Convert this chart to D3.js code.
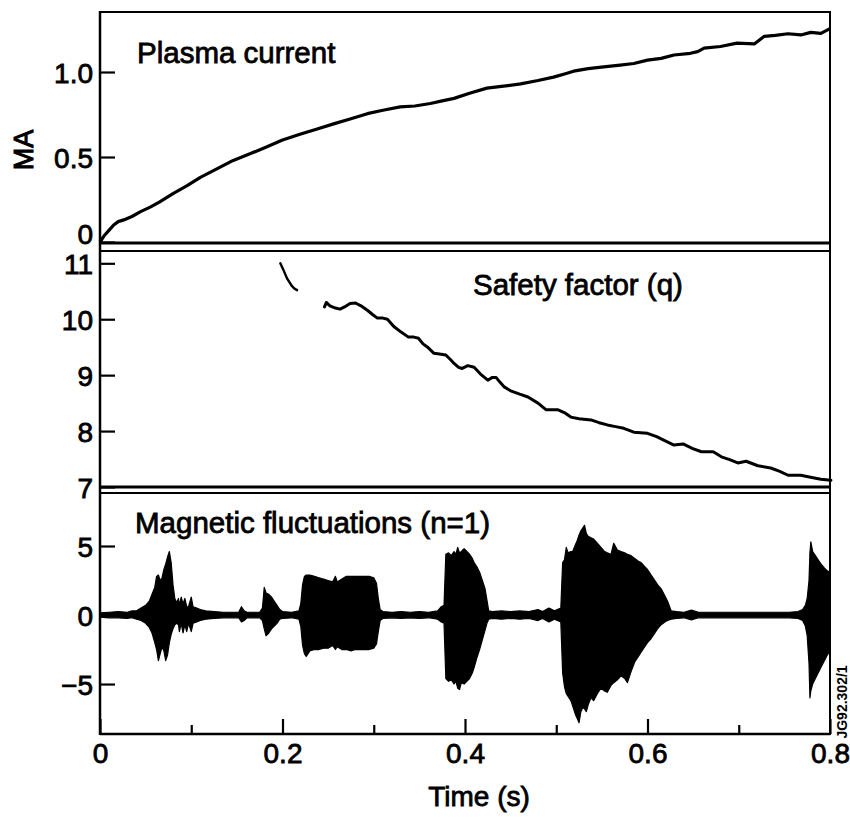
<!DOCTYPE html>
<html>
<head>
<meta charset="utf-8">
<script src="https://cdn.jsdelivr.net/npm/d3@7"></script>
<style>
  html, body { margin: 0; padding: 0; background: #fff; }
  svg { display: block; }
  text { font-family: "Liberation Sans", Arial, Helvetica, sans-serif; fill: #000; }
</style>
</head>
<body>
<div id="chart"></div>
<script>
// Plasma current (MA) vs time (s)
const currentTime = [0, 0.005, 0.01, 0.015, 0.02, 0.026, 0.035, 0.045, 0.055, 0.065, 0.08, 0.095, 0.11, 0.128,
    0.146, 0.165, 0.183, 0.2, 0.22, 0.238, 0.256, 0.275, 0.293, 0.31, 0.329, 0.345, 0.362, 0.375, 0.388, 0.405,
    0.424, 0.44, 0.461, 0.48, 0.497, 0.51, 0.519, 0.535, 0.552, 0.57, 0.585, 0.6, 0.615, 0.629, 0.647, 0.655,
    0.662, 0.68, 0.698, 0.717, 0.722, 0.728, 0.74, 0.754, 0.768, 0.779, 0.79, 0.8];
const currentMA = [0, 0.04, 0.07, 0.1, 0.12, 0.13, 0.15, 0.18, 0.205, 0.235, 0.285, 0.33, 0.38, 0.43,
    0.48, 0.52, 0.56, 0.6, 0.635, 0.665, 0.695, 0.725, 0.755, 0.775, 0.795, 0.8, 0.815, 0.83, 0.845, 0.875,
    0.905, 0.915, 0.93, 0.95, 0.97, 0.99, 1.005, 1.02, 1.03, 1.04, 1.05, 1.07, 1.08, 1.1, 1.11, 1.12,
    1.14, 1.15, 1.17, 1.165, 1.185, 1.21, 1.215, 1.225, 1.218, 1.233, 1.227, 1.255];

// Safety factor q, two separate traces
const qTime1 = [0.1976, 0.2005, 0.205, 0.21, 0.213, 0.216];
const qValue1 = [11.0, 10.9, 10.73, 10.6, 10.55, 10.52];
const qTime2 = [0.246, 0.248, 0.252, 0.258, 0.263, 0.268, 0.274, 0.28, 0.286, 0.293, 0.299, 0.304, 0.31, 0.315,
    0.322, 0.33, 0.338, 0.344, 0.349, 0.354, 0.359, 0.366, 0.372, 0.379, 0.384, 0.388, 0.393, 0.397, 0.403, 0.41,
    0.417, 0.425, 0.43, 0.434, 0.438, 0.443, 0.45, 0.46, 0.469, 0.48, 0.489, 0.495, 0.502, 0.51, 0.516, 0.525,
    0.538, 0.547, 0.556, 0.565, 0.574, 0.585, 0.6, 0.61, 0.62, 0.629, 0.639, 0.649, 0.659, 0.672, 0.681, 0.69,
    0.699, 0.708, 0.721, 0.735, 0.745, 0.754, 0.768, 0.78, 0.79, 0.801];
const qValue2 = [10.22, 10.3, 10.24, 10.2, 10.18, 10.22, 10.28, 10.29, 10.24, 10.16, 10.08, 10.02, 10.02, 10.0,
    9.87, 9.77, 9.68, 9.68, 9.66, 9.56, 9.5, 9.39, 9.38, 9.36, 9.28, 9.21, 9.14, 9.12, 9.17, 9.14,
    9.02, 8.91, 8.96, 8.96, 8.88, 8.79, 8.72, 8.66, 8.61, 8.5, 8.38, 8.38, 8.38, 8.32, 8.25, 8.22,
    8.2, 8.15, 8.11, 8.08, 8.05, 7.98, 7.96, 7.9, 7.82, 7.75, 7.77, 7.69, 7.63, 7.63, 7.54, 7.49,
    7.43, 7.46, 7.38, 7.34, 7.28, 7.21, 7.21, 7.17, 7.14, 7.12];

// Magnetic fluctuations (n=1): upper / lower envelope of the signal
const magTime = [0, 0.01, 0.02, 0.03, 0.035, 0.04, 0.045, 0.05, 0.054, 0.057, 0.06, 0.062, 0.064, 0.066, 0.068,
    0.07, 0.072, 0.074, 0.076, 0.078, 0.08, 0.082, 0.084, 0.086, 0.087, 0.089, 0.091, 0.093, 0.095, 0.097,
    0.1, 0.102, 0.106, 0.11, 0.116, 0.125, 0.135, 0.145, 0.152, 0.155, 0.158, 0.161, 0.168, 0.175, 0.178,
    0.18, 0.182, 0.185, 0.188, 0.191, 0.194, 0.197, 0.2, 0.21, 0.218, 0.22, 0.222, 0.224, 0.226, 0.23,
    0.235, 0.24, 0.245, 0.25, 0.255, 0.258, 0.26, 0.265, 0.27, 0.275, 0.28, 0.285, 0.29, 0.295, 0.3,
    0.303, 0.305, 0.307, 0.31, 0.32, 0.33, 0.34, 0.35, 0.36, 0.37, 0.374, 0.377, 0.379, 0.382, 0.385,
    0.388, 0.39, 0.392, 0.394, 0.396, 0.399, 0.402, 0.405, 0.408, 0.41, 0.413, 0.416, 0.419, 0.422, 0.424,
    0.426, 0.43, 0.44, 0.45, 0.46, 0.47, 0.48, 0.485, 0.492, 0.498, 0.505, 0.507, 0.509, 0.511, 0.513,
    0.516, 0.518, 0.521, 0.523, 0.525, 0.527, 0.529, 0.531, 0.533, 0.535, 0.538, 0.541, 0.545, 0.549, 0.553,
    0.556, 0.56, 0.563, 0.567, 0.571, 0.575, 0.578, 0.582, 0.586, 0.59, 0.593, 0.597, 0.6, 0.604, 0.607,
    0.611, 0.615, 0.619, 0.622, 0.626, 0.632, 0.64, 0.648, 0.656, 0.665, 0.68, 0.695, 0.71, 0.725, 0.74,
    0.755, 0.765, 0.77, 0.773, 0.775, 0.777, 0.778, 0.779, 0.781, 0.784, 0.787, 0.79, 0.794, 0.797, 0.8];
const magHigh = [0.15, 0.2, 0.25, 0.2, 0.3, 0.3, 0.5, 0.7, 1.0, 1.5, 2.0, 2.8, 2.9, 2.5, 2.7,
    3.3, 3.7, 4.2, 4.6, 3.8, 2.2, 1.2, 0.9, 1.2, 0.7, 1.3, 0.8, 1.2, 0.6, 0.6,
    1.3, 0.6, 0.5, 0.4, 0.3, 0.25, 0.2, 0.2, 0.2, 0.6, 0.3, 0.2, 0.2, 0.2, 0.5,
    2.0, 1.6, 1.5, 1.3, 1.0, 0.7, 0.4, 0.25, 0.2, 0.3, 0.8, 2.2, 2.8, 2.9, 2.9,
    2.8, 2.7, 2.6, 2.5, 2.4, 2.8, 2.4, 2.6, 2.8, 2.8, 2.8, 2.8, 2.8, 2.8, 2.7,
    2.3, 1.2, 0.4, 0.25, 0.2, 0.25, 0.2, 0.25, 0.2, 0.3, 0.6, 0.7, 4.4, 4.5, 4.3,
    4.6, 4.4, 4.9, 4.5, 4.6, 4.8, 4.6, 4.4, 4.1, 3.8, 3.5, 3.1, 2.5, 1.9, 1.1,
    0.3, 0.25, 0.3, 0.25, 0.3, 0.25, 0.4, 0.25, 0.5, 0.3, 0.5, 3.8, 4.0, 4.9, 4.5,
    4.6, 4.6, 5.1, 5.4, 5.8, 6.1, 6.3, 6.5, 5.9, 5.7, 5.6, 5.5, 5.2, 4.9, 4.6,
    4.5, 4.4, 5.2, 4.7, 4.6, 4.5, 4.4, 4.3, 4.1, 3.9, 3.8, 3.5, 3.3, 2.9, 2.6,
    2.2, 1.9, 1.4, 1.0, 0.3, 0.25, 0.2, 0.35, 0.2, 0.2, 0.2, 0.2, 0.2, 0.2, 0.2,
    0.2, 0.25, 0.4, 0.7, 1.2, 2.5, 4.5, 5.3, 4.6, 4.3, 4.0, 3.7, 3.4, 3.2, 3.1];
const magLow = [-0.15, -0.2, -0.2, -0.25, -0.2, -0.3, -0.4, -0.6, -0.9, -1.3, -2.0, -2.5, -3.3, -2.8, -2.3,
    -2.6, -3.3, -2.9, -2.0, -1.4, -1.0, -0.7, -0.6, -0.7, -1.2, -0.6, -1.3, -0.7, -1.2, -0.6,
    -1.2, -0.6, -0.5, -0.4, -0.3, -0.25, -0.2, -0.2, -0.2, -0.5, -0.4, -0.2, -0.2, -0.2, -0.4,
    -1.0, -1.5, -1.3, -1.0, -0.8, -0.6, -0.3, -0.25, -0.2, -0.3, -0.8, -2.2, -2.8, -3.0, -2.6,
    -2.5, -2.5, -2.4, -2.4, -2.2, -2.5, -2.3, -2.5, -2.5, -2.6, -2.5, -2.5, -2.5, -2.5, -2.4,
    -2.1, -1.2, -0.4, -0.25, -0.2, -0.25, -0.2, -0.25, -0.2, -0.3, -0.5, -0.6, -4.6, -4.8, -4.7,
    -5.0, -4.8, -5.3, -5.4, -4.9, -5.0, -4.8, -4.6, -4.2, -3.8, -3.1, -2.5, -1.8, -1.1, -0.6,
    -0.3, -0.25, -0.3, -0.25, -0.3, -0.25, -0.4, -0.25, -0.5, -0.3, -0.5, -4.2, -5.2, -5.7, -5.9,
    -6.2, -6.6, -7.2, -7.5, -7.8, -7.0, -6.7, -6.8, -7.0, -6.5, -6.0, -6.2, -5.7, -5.3, -5.5,
    -5.6, -5.1, -4.9, -4.7, -4.4, -4.6, -4.9, -4.1, -3.4, -3.0, -2.7, -2.3, -2.0, -1.7, -1.4,
    -1.0, -0.7, -0.5, -0.4, -0.3, -0.25, -0.2, -0.35, -0.2, -0.2, -0.2, -0.2, -0.2, -0.2, -0.2,
    -0.2, -0.25, -0.4, -0.8, -1.5, -3.5, -6.0, -5.5, -5.0, -4.6, -4.2, -3.8, -3.3, -2.9, -2.6];

// Tick values
const timeMajorTicks = [0, 0.2, 0.4, 0.6, 0.8];
const timeMinorTicks = [0.1, 0.3, 0.5, 0.7];
const currentTicks = [0, 0.5, 1.0];
const qTicks = [7, 8, 9, 10, 11];
const magTicks = [-5, 0, 5];

const width = 850;
const height = 817;
const left = 100, right = 830;

// panel bands (pixel extents)
const panels = {
    current: { top: 12, bottom: 243 },
    q: { top: 251, bottom: 487 },
    mag: { top: 493, bottom: 734 }
};

const svg = d3.select('#chart').append('svg')
    .attr('width', width)
    .attr('height', height)
    .attr('viewBox', [0, 0, width, height]);

svg.append('rect').attr('width', width).attr('height', height).attr('fill', '#fff');

const x = d3.scaleLinear().domain([0, 0.8]).range([left, right]);
const yI = d3.scaleLinear().domain([0, 1.353]).range([242, panels.current.top]);
const yQ = d3.scaleLinear().domain([7, 11.22]).range([487, panels.q.top]);
const yM = d3.scaleLinear().domain([-8.62, 8.84]).range([panels.mag.bottom, panels.mag.top]);

const tickFont = '28px';
const titleFont = '29.5px';
const inkWidth = 0.8;   // thin outline to mimic the heavy printed type

function styleAxis(g) {
    g.select('.domain').remove();
    g.selectAll('.tick line').attr('stroke', '#000').attr('stroke-width', 2.2);
    g.selectAll('.tick text')
        .style('font-size', tickFont)
        .style('font-family', '"Liberation Sans", Arial, sans-serif')
        .attr('fill', '#000')
        .attr('stroke', '#000')
        .attr('stroke-width', inkWidth);
}

// Y axes, ticks pointing inward
const fmtOne = d => d === 0 ? '0' : d3.format('.1f')(d);

svg.append('g')
    .attr('transform', `translate(${left},0)`)
    .call(d3.axisLeft(yI).tickValues(currentTicks).tickSize(-15).tickPadding(7).tickFormat(fmtOne))
    .call(styleAxis)
    .selectAll('.tick text')
    .attr('dy', d => d === 0 ? '0.04em' : '0.36em');

svg.append('g')
    .attr('transform', `translate(${left},0)`)
    .call(d3.axisLeft(yQ).tickValues(qTicks).tickSize(-15).tickPadding(7).tickFormat(d3.format('d')))
    .call(styleAxis)
    .selectAll('.tick text')
    .attr('dy', '0.36em');

svg.append('g')
    .attr('transform', `translate(${left},0)`)
    .call(d3.axisLeft(yM).tickValues(magTicks).tickSize(-15).tickPadding(7).tickFormat(d3.format('d')))
    .call(styleAxis)
    .selectAll('.tick text')
    .attr('dy', '0.36em');

// X axis: major and minor ticks pointing up
svg.append('g')
    .attr('transform', `translate(0,${panels.mag.bottom})`)
    .call(d3.axisBottom(x).tickValues(timeMajorTicks).tickSize(-15).tickPadding(9).tickFormat(fmtOne))
    .call(styleAxis);

svg.append('g')
    .attr('transform', `translate(0,${panels.mag.bottom})`)
    .call(d3.axisBottom(x).tickValues(timeMinorTicks).tickSize(-9).tickFormat(''))
    .call(styleAxis);

// Frames
const frame = svg.append('g').attr('stroke', '#000').attr('fill', 'none');
frame.append('line').attr('x1', left).attr('x2', left).attr('y1', panels.current.top - 1).attr('y2', panels.mag.bottom + 1).attr('stroke-width', 2.5);
frame.append('line').attr('x1', right).attr('x2', right).attr('y1', panels.current.top - 1).attr('y2', panels.mag.bottom + 1).attr('stroke-width', 2);
[[panels.current.top, 2], [panels.current.bottom, 3], [panels.q.top, 2], [panels.q.bottom, 3], [panels.mag.top, 2], [panels.mag.bottom, 2.5]]
    .forEach(([yy, w]) => {
        frame.append('line').attr('x1', left).attr('x2', right).attr('y1', yy).attr('y2', yy).attr('stroke-width', w);
    });

// Plasma current curve
const currentLine = d3.line().x(d => x(d[0])).y(d => yI(d[1])).curve(d3.curveLinear);
svg.append('path')
    .datum(d3.zip(currentTime, currentMA))
    .attr('d', currentLine)
    .attr('fill', 'none')
    .attr('stroke', '#000')
    .attr('stroke-width', 3.2)
    .attr('stroke-linejoin', 'round');

// Safety factor traces
const qLine = d3.line().x(d => x(d[0])).y(d => yQ(d[1]));
svg.append('path')
    .datum(d3.zip(qTime1, qValue1))
    .attr('d', qLine)
    .attr('fill', 'none')
    .attr('stroke', '#000')
    .attr('stroke-width', 2.4)
    .attr('stroke-linecap', 'round');
svg.append('path')
    .datum(d3.zip(qTime2, qValue2))
    .attr('d', qLine)
    .attr('fill', 'none')
    .attr('stroke', '#000')
    .attr('stroke-width', 3)
    .attr('stroke-linejoin', 'round')
    .attr('stroke-linecap', 'round');

// Magnetic fluctuation envelope
const magArea = d3.area()
    .x(d => x(d[0]))
    .y0(d => yM(d[2]))
    .y1(d => yM(d[1]));
svg.append('path')
    .datum(d3.zip(magTime, magHigh, magLow))
    .attr('d', magArea)
    .attr('fill', '#000')
    .attr('stroke', '#000')
    .attr('stroke-width', 1.2)
    .attr('stroke-linejoin', 'round');

// Panel titles
function title(txt, tx, ty, anchor) {
    svg.append('text')
        .attr('x', tx)
        .attr('y', ty)
        .attr('text-anchor', anchor || 'start')
        .style('font-size', titleFont)
        .attr('stroke', '#000')
        .attr('stroke-width', inkWidth)
        .text(txt);
}
title('Plasma current', 137, 63);
title('Safety factor (q)', 473, 295);
title('Magnetic fluctuations (n=1)', 135, 533);

// Axis titles
svg.append('text')
    .attr('transform', 'translate(33,150) rotate(-90)')
    .attr('text-anchor', 'middle')
    .style('font-size', '27px')
    .attr('stroke', '#000')
    .attr('stroke-width', 1)
    .text('MA');

svg.append('text')
    .attr('x', 479)
    .attr('y', 806)
    .attr('text-anchor', 'middle')
    .style('font-size', tickFont)
    .attr('stroke', '#000')
    .attr('stroke-width', inkWidth)
    .text('Time (s)');

// figure reference
svg.append('text')
    .attr('transform', 'translate(847,702) rotate(-90)')
    .attr('text-anchor', 'middle')
    .style('font-size', '14px')
    .style('font-weight', 'bold')
    .text('JG92.302/1');
</script>
</body>
</html>
